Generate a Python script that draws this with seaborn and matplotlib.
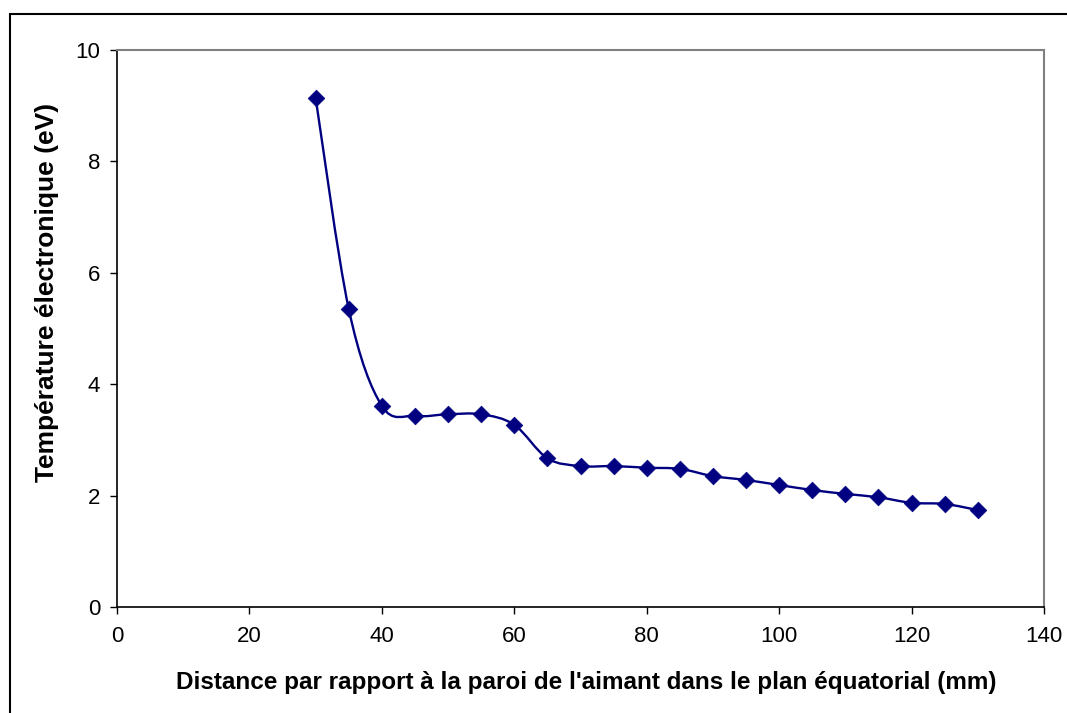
import matplotlib
matplotlib.use("Agg")
import matplotlib.pyplot as plt
from matplotlib.path import Path
from matplotlib.patches import PathPatch, Rectangle
import numpy as np
import pandas as pd
import seaborn as sns

# Distance from the magnet wall (mm) and electron temperature (eV)
distance_mm = [30, 35, 40, 45, 50, 55, 60, 65, 70, 75, 80,
               85, 90, 95, 100, 105, 110, 115, 120, 125, 130]
temperature_ev = [9.14, 5.35, 3.61, 3.43, 3.46, 3.46, 3.27, 2.67, 2.53, 2.53, 2.50,
                  2.48, 2.35, 2.28, 2.19, 2.10, 2.03, 1.97, 1.87, 1.85, 1.74]

x_ticks = [0, 20, 40, 60, 80, 100, 120, 140]
y_ticks = [0, 2, 4, 6, 8, 10]

x_label = "Distance par rapport à la paroi de l'aimant dans le plan équatorial (mm)"
y_label = "Température électronique (eV)"

NAVY = "#000080"

sns.set_theme(style="white")
plt.rcParams["font.family"] = ["Liberation Sans", "DejaVu Sans"]

df = pd.DataFrame({"d": distance_mm, "t": temperature_ev})

fig = plt.figure(figsize=(10.67, 7.13), dpi=100)
ax = fig.add_axes([117 / 1067, 1 - 607 / 713, (1044 - 117) / 1067, (607 - 50) / 713])

# Smoothed connecting line: cubic Bezier segments (Catmull-Rom style control points)
pts = np.column_stack([df["d"].to_numpy(float), df["t"].to_numpy(float)])
ext = np.vstack([pts[0], pts, pts[-1]])
verts = [tuple(pts[0])]
codes = [Path.MOVETO]
for i in range(len(pts) - 1):
    p0, p1, p2, p3 = ext[i], ext[i + 1], ext[i + 2], ext[i + 3]
    c1 = p1 + (p2 - p0) / 6.0
    c2 = p2 - (p3 - p1) / 6.0
    verts += [tuple(c1), tuple(c2), tuple(p2)]
    codes += [Path.CURVE4, Path.CURVE4, Path.CURVE4]
ax.add_patch(PathPatch(Path(verts, codes), facecolor="none", edgecolor=NAVY,
                       linewidth=1.7, zorder=2))

sns.scatterplot(data=df, x="d", y="t", marker="D", s=72, color=NAVY,
                edgecolor=NAVY, linewidth=0.5, ax=ax, zorder=3, legend=False)

ax.set_xlim(0, 140)
ax.set_ylim(0, 10)
ax.set_xticks(x_ticks)
ax.set_yticks(y_ticks)
ax.set_xticklabels([str(v) for v in x_ticks])
ax.set_yticklabels([str(v) for v in y_ticks])
ax.grid(False)

ax.tick_params(axis="both", direction="out", length=5, width=1, color="black",
               labelsize=16, labelcolor="black")
ax.tick_params(axis="x", pad=9, bottom=True)
ax.tick_params(axis="y", pad=7, left=True)

for side in ("left", "bottom"):
    ax.spines[side].set_color("black")
    ax.spines[side].set_linewidth(1.2)
for side in ("top", "right"):
    ax.spines[side].set_color("#808080")
    ax.spines[side].set_linewidth(1.5)

ax.set_xlabel(x_label, fontsize=17.5, fontweight="bold", color="black")
ax.set_ylabel(y_label, fontsize=19, fontweight="bold", color="black")
ax.xaxis.set_label_coords(0.506, -0.115)
ax.yaxis.set_label_coords(-0.063, 0.565)

# Chart-area frame
fig.patches.append(Rectangle((10 / 1067, -0.05), 1.1, 1 - 14 / 713 + 0.05,
                             transform=fig.transFigure, fill=False,
                             edgecolor="black", linewidth=1.5))

fig.savefig("out.png", dpi=100)
